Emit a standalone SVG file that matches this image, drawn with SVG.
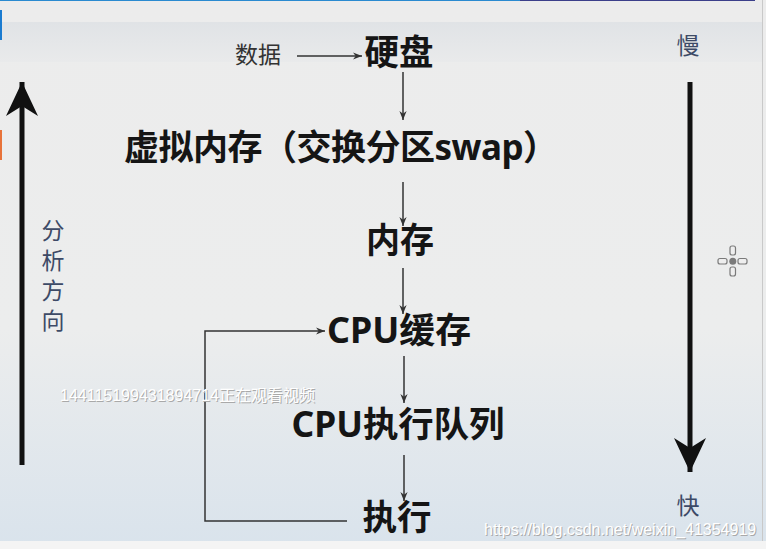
<svg xmlns="http://www.w3.org/2000/svg" width="766" height="549" viewBox="0 0 766 549">
<defs>
<linearGradient id="bg" x1="0" y1="0" x2="0" y2="1">
<stop offset="0" stop-color="#ececec"/>
<stop offset="0.6" stop-color="#eceded"/>
<stop offset="1" stop-color="#d9e3ec"/>
</linearGradient>
<linearGradient id="band" x1="0" y1="0" x2="0" y2="1">
<stop offset="0" stop-color="#e0e3e6"/>
<stop offset="1" stop-color="#e9eaeb"/>
</linearGradient>
<marker id="ah" viewBox="0 0 10 10" refX="10" refY="5" markerWidth="9" markerHeight="9" markerUnits="userSpaceOnUse" orient="auto">
<path d="M0,1 L10,5 L0,9 L3,5 Z" fill="#333"/>
</marker>
<marker id="big" viewBox="0 0 36 32" refX="34" refY="16" markerWidth="36" markerHeight="32" markerUnits="userSpaceOnUse" orient="auto">
<path d="M0,0 L34,16 L0,32 L10,16 Z" fill="#111"/>
</marker>
<style>
.n{font-family:"Noto Sans","Noto Sans CJK SC",sans-serif;font-weight:bold;font-size:35px;fill:#151515;text-anchor:middle}
.s{font-family:"Noto Sans CJK SC",sans-serif;font-size:23px;fill:#3d4a66;text-anchor:middle}
.c{stroke:#333;stroke-width:1.5;fill:none;marker-end:url(#ah)}
.wm{font-family:"Liberation Sans","Noto Sans CJK SC",sans-serif;font-size:16px}
.wmsh{fill:#a9a9a9}
.wmfg{fill:#ffffff}
</style>
</defs>
<rect width="766" height="549" fill="url(#bg)"/>
<rect x="0" y="22" width="762" height="40" fill="url(#band)"/>
<rect x="0" y="541" width="766" height="8" fill="#f4f4f4"/>
<line x1="762.5" y1="0" x2="762.5" y2="541" stroke="#c9c9c9" stroke-width="1"/>
<line x1="0" y1="0.5" x2="520" y2="0.5" stroke="#2a8ad0" stroke-width="1"/>
<line x1="520" y1="0.5" x2="755" y2="0.5" stroke="#3b3f8a" stroke-width="1"/>
<rect x="0" y="10" width="2" height="30" fill="#1a7bd0"/>
<rect x="0" y="130" width="2" height="30" fill="#e8733a"/>

<g id="connectors">
<line class="c" x1="297" y1="56" x2="362" y2="56"/>
<line class="c" x1="403" y1="72" x2="403" y2="120"/>
<line class="c" x1="403" y1="182" x2="403" y2="226"/>
<line class="c" x1="403" y1="268" x2="403" y2="314"/>
<line class="c" x1="404" y1="356" x2="404" y2="403"/>
<line class="c" x1="404" y1="455" x2="404" y2="501"/>
<polyline class="c" points="347,521 205,521 205,331 325,331"/>
<line x1="22" y1="465" x2="22" y2="82" stroke="#111" stroke-width="5" marker-end="url(#big)"/>
<line x1="690" y1="82" x2="690" y2="472" stroke="#111" stroke-width="5" marker-end="url(#big)"/>
</g>

<g id="data"><text x="258" y="63" font-family="Noto Sans CJK SC, sans-serif" font-size="23" fill="#333" text-anchor="middle">数据</text></g>
<g id="disk"><text class="n" x="399" y="65" textLength="69" lengthAdjust="spacingAndGlyphs">硬盘</text></g>
<g id="swap"><text class="n" x="341" y="160" textLength="434" lengthAdjust="spacing">虚拟内存（交换分区swap）</text></g>
<g id="memory"><text class="n" x="400" y="253" textLength="68" lengthAdjust="spacingAndGlyphs">内存</text></g>
<g id="cpucache"><text class="n" x="399" y="343" textLength="144" lengthAdjust="spacingAndGlyphs">CPU缓存</text></g>
<g id="queue"><text class="n" x="398" y="437" textLength="213" lengthAdjust="spacingAndGlyphs">CPU执行队列</text></g>
<g id="exec"><text class="n" x="397" y="530" textLength="69" lengthAdjust="spacingAndGlyphs">执行</text></g>

<g id="direction">
<text x="53" y="219" font-family="Noto Sans CJK SC, sans-serif" font-size="23" fill="#3d4a66" writing-mode="vertical-rl" letter-spacing="7">分析方向</text>
</g>
<g id="slow"><text class="s" x="688" y="54">慢</text></g>
<g id="fast"><text class="s" x="688" y="514">快</text></g>

<g id="moveicon" fill="#eeeeee" stroke="#7a7a7a" stroke-width="1.2">
<rect x="730" y="246" width="5.5" height="9" rx="2"/>
<rect x="730" y="267" width="5.5" height="9" rx="2"/>
<rect x="718" y="258.5" width="9" height="5.5" rx="2"/>
<rect x="738" y="258.5" width="9" height="5.5" rx="2"/>
<circle cx="732.8" cy="261.2" r="3.5" fill="#7a7a7a" stroke="none"/>
</g>

<g class="wm">
<text class="wmsh" x="61" y="402">144115199431894714正在观看视频</text>
<text class="wmfg" x="60" y="401">144115199431894714正在观看视频</text>
<text class="wmsh" x="485" y="536">https://blog.csdn.net/weixin_41354919</text>
<text class="wmfg" x="484" y="535">https://blog.csdn.net/weixin_41354919</text>
</g>
</svg>
